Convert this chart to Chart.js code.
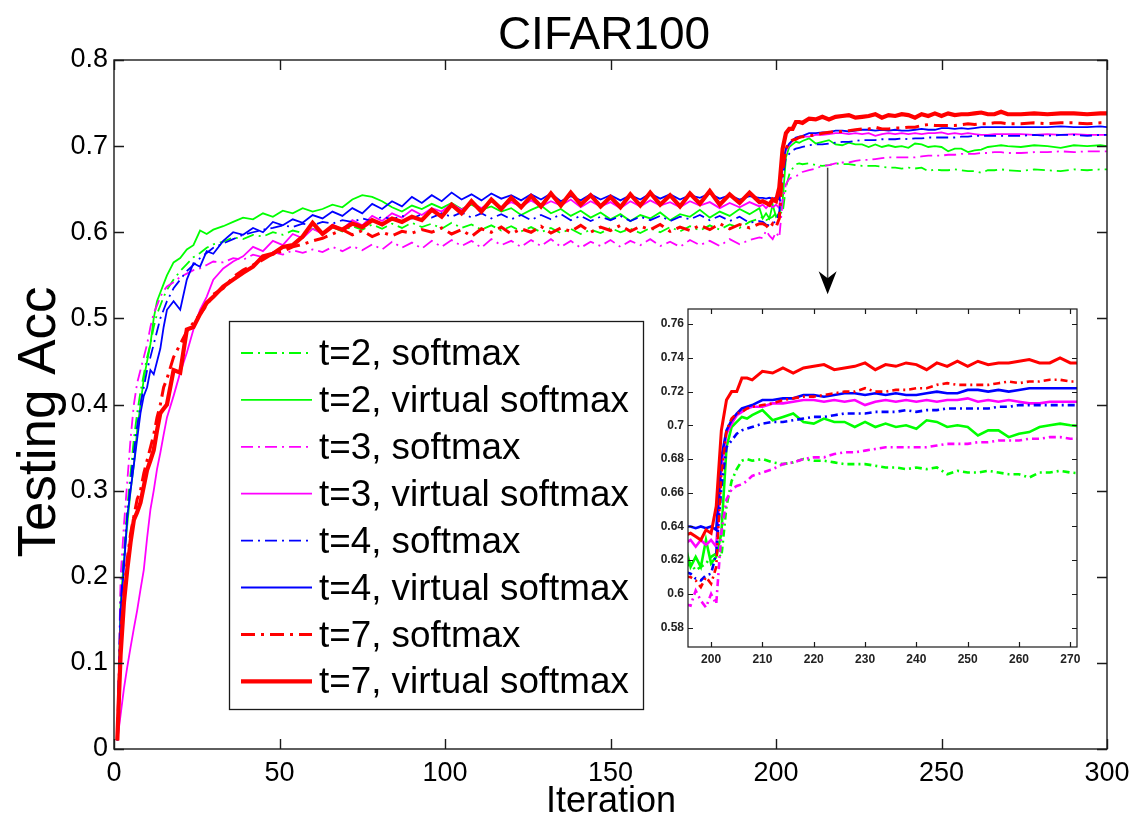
<!DOCTYPE html>
<html>
<head>
<meta charset="utf-8">
<script src="https://cdn.jsdelivr.net/npm/chart.js@4.4.1/dist/chart.umd.min.js"></script>
<style>
  html, body { margin: 0; padding: 0; background: #fff; }
  #wrap { position: relative; width: 1135px; height: 815px; }
  #main { position: absolute; left: 0; top: 0; }
  #zoom { position: absolute; left: 640px; top: 295px; }
</style>
</head>
<body>
<div id="wrap">
  <canvas id="main" width="1135" height="815"></canvas>
  <canvas id="zoom" width="460" height="385"></canvas>
</div>
<script>
const FONT = '"Liberation Sans", Arial, Helvetica, sans-serif';

// iterations sampled for the three stretches of each curve
const xHead = [1, 2, 3, 4, 5, 6, 7, 8, 9, 10, 11, 12, 13, 14, 15, 16,
  18, 20, 22, 24, 26, 28, 30,
  33, 36, 39, 42, 45, 48, 51, 54, 57, 60,
  63, 66, 69, 72, 75, 78, 81, 84, 87, 90,
  93, 96, 99, 102, 105, 108, 111, 114, 117, 120,
  123, 126, 129, 132, 135, 138, 141, 144, 147, 150,
  153, 156, 159, 162, 165, 168, 171, 174, 177, 180,
  183, 186, 189, 192, 195];
const xZoom = [196, 197, 198, 199, 200, 201, 202, 203, 204, 205, 206, 207, 208,
  210, 212, 214, 216, 218, 220, 222, 224, 226, 228,
  230, 232, 234, 236, 238, 240, 242, 244, 246, 248,
  250, 252, 254, 256, 258, 260, 262, 264, 266, 268, 270];
const xTail = [274, 278, 282, 286, 290, 294, 298, 300];

const seriesNames = [
  "t=2, softmax", "t=2, virtual softmax",
  "t=3, softmax", "t=3, virtual softmax",
  "t=4, softmax", "t=4, virtual softmax",
  "t=7, softmax", "t=7, virtual softmax"
];

// t=2 softmax
const headT2Soft = [0.01, 0.18, 0.23, 0.28, 0.32, 0.36, 0.39, 0.415, 0.435, 0.455, 0.47, 0.49, 0.505, 0.515, 0.525, 0.533,
  0.545, 0.555, 0.563, 0.571, 0.576, 0.582, 0.586,
  0.589, 0.594, 0.592, 0.597, 0.595, 0.6, 0.597, 0.602, 0.599, 0.604,
  0.6, 0.606, 0.601, 0.607, 0.603, 0.609, 0.604, 0.61, 0.605, 0.611,
  0.606, 0.61, 0.604, 0.611, 0.605, 0.609, 0.603, 0.608, 0.602, 0.607,
  0.601, 0.606, 0.6, 0.605, 0.599, 0.604, 0.598, 0.603, 0.599, 0.605,
  0.6, 0.604, 0.599, 0.605, 0.6, 0.606, 0.601, 0.607, 0.602, 0.608,
  0.603, 0.609, 0.605, 0.612, 0.616];
const zoomT2Soft = [0.618, 0.614, 0.616, 0.618, 0.622, 0.624, 0.622, 0.652, 0.667, 0.674, 0.679, 0.68, 0.679,
  0.68, 0.678, 0.677, 0.678, 0.68, 0.679, 0.679, 0.678, 0.677, 0.677,
  0.677, 0.676, 0.675, 0.675, 0.674, 0.675, 0.674, 0.675, 0.671, 0.673,
  0.672, 0.672, 0.673, 0.672, 0.671, 0.671, 0.669, 0.672, 0.672, 0.673, 0.672];
const tailT2Soft = [0.671, 0.673, 0.672, 0.671, 0.673, 0.672, 0.673, 0.673];

// t=2 virtual softmax
const headT2Virt = [0.01, 0.17, 0.22, 0.26, 0.3, 0.33, 0.37, 0.4, 0.43, 0.45, 0.47, 0.5, 0.52, 0.53, 0.54, 0.55,
  0.565, 0.57, 0.58, 0.585, 0.602, 0.598, 0.603,
  0.607, 0.612, 0.617, 0.615, 0.622, 0.618, 0.625, 0.622, 0.628, 0.624,
  0.627, 0.632, 0.629, 0.638, 0.643, 0.641, 0.636, 0.629, 0.624, 0.631,
  0.627, 0.633, 0.628, 0.634, 0.627, 0.632, 0.626, 0.63, 0.624, 0.628,
  0.62, 0.626, 0.631, 0.622, 0.627, 0.619, 0.625, 0.617, 0.623, 0.615,
  0.621, 0.613, 0.62, 0.616, 0.623, 0.614, 0.621, 0.618, 0.626, 0.617,
  0.624, 0.619, 0.627, 0.621, 0.628];
const zoomT2Virt = [0.616, 0.622, 0.616, 0.632, 0.618, 0.622, 0.636, 0.687, 0.699, 0.702, 0.705, 0.704, 0.706,
  0.709, 0.703, 0.705, 0.707, 0.702, 0.701, 0.704, 0.702, 0.702, 0.699,
  0.702, 0.699, 0.701, 0.699, 0.7, 0.698, 0.703, 0.702, 0.699, 0.7,
  0.699, 0.694, 0.697, 0.697, 0.693, 0.695, 0.696, 0.699, 0.7, 0.701, 0.7];
const tailT2Virt = [0.699, 0.701, 0.7, 0.698, 0.701, 0.7, 0.701, 0.7];

// t=3 softmax
const headT3Soft = [0.01, 0.2, 0.26, 0.31, 0.36, 0.4, 0.425, 0.44, 0.455, 0.47, 0.49, 0.506, 0.515, 0.525, 0.532, 0.537,
  0.542, 0.548, 0.552, 0.556, 0.558, 0.562, 0.566,
  0.565, 0.57, 0.568, 0.574, 0.571, 0.577, 0.574, 0.579, 0.576, 0.58,
  0.577, 0.583, 0.578, 0.584, 0.579, 0.586, 0.58, 0.589, 0.582, 0.588,
  0.581, 0.59, 0.583, 0.591, 0.584, 0.59, 0.582, 0.592, 0.585, 0.59,
  0.583, 0.591, 0.584, 0.592, 0.583, 0.59, 0.582, 0.589, 0.584, 0.591,
  0.583, 0.59, 0.585, 0.592, 0.584, 0.589, 0.583, 0.591, 0.585, 0.59,
  0.584, 0.592, 0.586, 0.591, 0.594];
const zoomT3Soft = [0.593, 0.602, 0.596, 0.592, 0.6, 0.594, 0.636, 0.656, 0.662, 0.664, 0.665, 0.667, 0.67,
  0.672, 0.674, 0.677, 0.678, 0.68, 0.681, 0.681, 0.683, 0.684, 0.684,
  0.685, 0.686, 0.687, 0.687, 0.687, 0.687, 0.687, 0.688, 0.689, 0.689,
  0.689, 0.69, 0.69, 0.691, 0.691, 0.691, 0.692, 0.692, 0.693, 0.693, 0.692];
const tailT3Soft = [0.692, 0.693, 0.693, 0.694, 0.693, 0.694, 0.694, 0.694];

// t=3 virtual softmax
const headT3Virt = [0.01, 0.04, 0.07, 0.095, 0.118, 0.14, 0.161, 0.185, 0.208, 0.245, 0.278, 0.3, 0.325, 0.344, 0.365, 0.385,
  0.41, 0.437, 0.46, 0.487, 0.51, 0.525, 0.545,
  0.558, 0.566, 0.572, 0.583, 0.578, 0.59, 0.585, 0.598, 0.593, 0.604,
  0.598, 0.609, 0.603, 0.614, 0.608, 0.619, 0.613, 0.622, 0.617, 0.626,
  0.62, 0.628, 0.624, 0.633, 0.626, 0.634, 0.628, 0.636, 0.629, 0.635,
  0.63, 0.637, 0.63, 0.636, 0.631, 0.638, 0.629, 0.636, 0.63, 0.635,
  0.628, 0.636, 0.63, 0.637, 0.631, 0.635, 0.629, 0.636, 0.631, 0.635,
  0.628, 0.634, 0.629, 0.635, 0.63];
const zoomT3Virt = [0.632, 0.628, 0.632, 0.629, 0.632, 0.628, 0.675, 0.695, 0.701, 0.706, 0.708, 0.71, 0.711,
  0.711, 0.713, 0.713, 0.714, 0.715, 0.715, 0.714, 0.715, 0.714, 0.715,
  0.712, 0.714, 0.715, 0.714, 0.715, 0.714, 0.715, 0.714, 0.715, 0.715,
  0.716, 0.714, 0.715, 0.714, 0.715, 0.714, 0.713, 0.713, 0.714, 0.714, 0.714];
const tailT3Virt = [0.714, 0.713, 0.714, 0.713, 0.714, 0.713, 0.713, 0.713];

// t=4 softmax
const headT4Soft = [0.01, 0.17, 0.22, 0.27, 0.31, 0.345, 0.375, 0.4, 0.42, 0.44, 0.455, 0.47, 0.485, 0.5, 0.51, 0.52,
  0.535, 0.545, 0.555, 0.562, 0.57, 0.576, 0.582,
  0.587, 0.592, 0.597, 0.6, 0.603, 0.605, 0.608, 0.606, 0.61, 0.608,
  0.612, 0.61, 0.614, 0.612, 0.616, 0.613, 0.618, 0.615, 0.619, 0.616,
  0.621, 0.617, 0.622, 0.618, 0.623, 0.617, 0.622, 0.616, 0.621, 0.615,
  0.62, 0.614, 0.62, 0.615, 0.621, 0.614, 0.619, 0.613, 0.618, 0.614,
  0.619, 0.613, 0.618, 0.614, 0.619, 0.613, 0.618, 0.615, 0.62, 0.614,
  0.619, 0.613, 0.618, 0.611, 0.613];
const zoomT4Soft = [0.612, 0.609, 0.608, 0.611, 0.612, 0.624, 0.663, 0.687, 0.691, 0.695, 0.697, 0.698, 0.699,
  0.701, 0.702, 0.702, 0.703, 0.704, 0.705, 0.705, 0.706, 0.707, 0.707,
  0.707, 0.708, 0.708, 0.708, 0.709, 0.708, 0.709, 0.709, 0.71, 0.71,
  0.71, 0.71, 0.71, 0.711, 0.711, 0.712, 0.712, 0.712, 0.712, 0.712, 0.712];
const tailT4Soft = [0.712, 0.713, 0.712, 0.713, 0.713, 0.712, 0.713, 0.713];

// t=4 virtual softmax
const headT4Virt = [0.01, 0.16, 0.21, 0.27, 0.3, 0.33, 0.36, 0.39, 0.41, 0.42, 0.44, 0.435, 0.45, 0.465, 0.49, 0.51,
  0.52, 0.51, 0.545, 0.564, 0.56, 0.578, 0.575,
  0.59, 0.6, 0.597, 0.605, 0.6, 0.612, 0.608, 0.615, 0.611, 0.62,
  0.616, 0.624, 0.619, 0.628, 0.622, 0.633, 0.627, 0.636, 0.63, 0.641,
  0.634, 0.643, 0.636, 0.646, 0.638, 0.644, 0.637, 0.645, 0.639, 0.643,
  0.637, 0.644, 0.638, 0.645, 0.636, 0.642, 0.637, 0.644, 0.638, 0.643,
  0.637, 0.643, 0.638, 0.645, 0.639, 0.644, 0.638, 0.643, 0.64, 0.645,
  0.639, 0.643, 0.638, 0.642, 0.64];
const zoomT4Virt = [0.64, 0.639, 0.64, 0.639, 0.64, 0.638, 0.681, 0.697, 0.703, 0.707, 0.71, 0.711, 0.712,
  0.715, 0.715, 0.716, 0.716, 0.718, 0.718, 0.717, 0.718, 0.719, 0.719,
  0.718, 0.719, 0.718, 0.719, 0.718, 0.718, 0.719, 0.72, 0.719, 0.719,
  0.721, 0.721, 0.72, 0.721, 0.72, 0.721, 0.722, 0.722, 0.722, 0.722, 0.722];
const tailT4Virt = [0.722, 0.722, 0.722, 0.723, 0.722, 0.722, 0.723, 0.722];

// t=7 softmax
const headT7Soft = [0.01, 0.13, 0.18, 0.22, 0.25, 0.27, 0.29, 0.3, 0.32, 0.335, 0.35, 0.365, 0.385, 0.4, 0.42, 0.43,
  0.455, 0.47, 0.485, 0.495, 0.505, 0.515, 0.528,
  0.535, 0.548, 0.556, 0.562, 0.568, 0.575, 0.578, 0.583, 0.586, 0.59,
  0.593, 0.598, 0.603, 0.597, 0.602, 0.595, 0.6, 0.596, 0.601, 0.599,
  0.603, 0.6, 0.605, 0.598, 0.603, 0.595, 0.604, 0.6, 0.606, 0.598,
  0.604, 0.6, 0.607, 0.599, 0.605, 0.601, 0.608, 0.6, 0.606, 0.602,
  0.608, 0.601, 0.607, 0.603, 0.609, 0.601, 0.606, 0.602, 0.608, 0.603,
  0.61, 0.604, 0.609, 0.605, 0.61];
const zoomT7Soft = [0.61, 0.608, 0.604, 0.61, 0.606, 0.616, 0.671, 0.697, 0.704, 0.707, 0.708, 0.71, 0.711,
  0.712, 0.713, 0.715, 0.716, 0.717, 0.717, 0.718, 0.719, 0.72, 0.72,
  0.722, 0.72, 0.72, 0.721, 0.721, 0.722, 0.722, 0.724, 0.725, 0.724,
  0.724, 0.724, 0.724, 0.725, 0.726, 0.725, 0.726, 0.726, 0.727, 0.727, 0.726];
const tailT7Soft = [0.726, 0.727, 0.726, 0.727, 0.727, 0.726, 0.727, 0.727];

// t=7 virtual softmax
const headT7Virt = [0.01, 0.11, 0.17, 0.208, 0.24, 0.266, 0.275, 0.286, 0.305, 0.324, 0.335, 0.347, 0.37, 0.39, 0.395, 0.4,
  0.44, 0.437, 0.487, 0.49, 0.505, 0.518, 0.525,
  0.537, 0.545, 0.553, 0.56, 0.572, 0.575, 0.583, 0.585, 0.595, 0.611,
  0.598, 0.607, 0.603, 0.61, 0.606, 0.614, 0.609, 0.616, 0.612, 0.618,
  0.614, 0.626, 0.618, 0.632, 0.622, 0.636, 0.624, 0.638, 0.627, 0.64,
  0.629, 0.642, 0.63, 0.645, 0.631, 0.646, 0.632, 0.643, 0.63, 0.641,
  0.629, 0.644, 0.631, 0.646, 0.632, 0.643, 0.63, 0.645, 0.633, 0.648,
  0.632, 0.644, 0.634, 0.646, 0.635];
const zoomT7Virt = [0.636, 0.634, 0.632, 0.638, 0.636, 0.652, 0.697, 0.715, 0.72, 0.72, 0.728, 0.728, 0.727,
  0.732, 0.731, 0.734, 0.731, 0.734, 0.735, 0.736, 0.733, 0.734, 0.735,
  0.737, 0.733, 0.736, 0.735, 0.737, 0.736, 0.733, 0.737, 0.735, 0.738,
  0.735, 0.738, 0.736, 0.737, 0.737, 0.738, 0.739, 0.737, 0.737, 0.74, 0.737];
const tailT7Virt = [0.737, 0.738, 0.737, 0.738, 0.738, 0.737, 0.738, 0.738];

const yTicksMain = [0, 0.1, 0.2, 0.3, 0.4, 0.5, 0.6, 0.7, 0.8];

const GREEN = "#00ff00", MAGENTA = "#ff00ff", BLUE = "#0000ff", RED = "#ff0000";

const seriesList = [
  { color: GREEN, dash: true, w: 1.8, head: headT2Soft, zoom: zoomT2Soft, tail: tailT2Soft },
  { color: GREEN, dash: false, w: 1.8, head: headT2Virt, zoom: zoomT2Virt, tail: tailT2Virt },
  { color: MAGENTA, dash: true, w: 1.8, head: headT3Soft, zoom: zoomT3Soft, tail: tailT3Soft },
  { color: MAGENTA, dash: false, w: 1.8, head: headT3Virt, zoom: zoomT3Virt, tail: tailT3Virt },
  { color: BLUE, dash: true, w: 1.8, head: headT4Soft, zoom: zoomT4Soft, tail: tailT4Soft },
  { color: BLUE, dash: false, w: 1.8, head: headT4Virt, zoom: zoomT4Virt, tail: tailT4Virt },
  { color: RED, dash: true, w: 3, head: headT7Soft, zoom: zoomT7Soft, tail: tailT7Soft },
  { color: RED, dash: false, w: 4.2, head: headT7Virt, zoom: zoomT7Virt, tail: tailT7Virt }
];

function points(xs, ys) {
  return xs.map((x, i) => ({ x: x, y: ys[i] }));
}

function tickText(v) {
  return String(+(+v).toFixed(2));
}

// MATLAB style box with ticks pointing inwards on all four sides
const boxTicks = {
  id: "boxTicks",
  afterDraw(chart, args, opts) {
    const { ctx, chartArea: a, scales } = chart;
    const len = opts.len || 10;
    ctx.save();
    ctx.strokeStyle = "#1a1a1a";
    ctx.lineWidth = opts.lw || 1.3;
    ctx.strokeRect(a.left, a.top, a.right - a.left, a.bottom - a.top);
    ctx.beginPath();
    scales.x.ticks.forEach((t) => {
      const px = Math.round(scales.x.getPixelForValue(t.value)) + 0.5;
      ctx.moveTo(px, a.bottom); ctx.lineTo(px, a.bottom - len);
      ctx.moveTo(px, a.top); ctx.lineTo(px, a.top + len);
    });
    scales.y.ticks.forEach((t) => {
      const py = Math.round(scales.y.getPixelForValue(t.value)) + 0.5;
      ctx.moveTo(a.left, py); ctx.lineTo(a.left + len, py);
      ctx.moveTo(a.right, py); ctx.lineTo(a.right - len, py);
    });
    ctx.stroke();
    ctx.restore();
  }
};

const mainDecor = {
  id: "mainDecor",
  afterDraw(chart) {
    const { ctx, scales } = chart;
    ctx.save();
    ctx.fillStyle = "#000";
    ctx.textAlign = "center";
    ctx.textBaseline = "alphabetic";
    ctx.font = `46px ${FONT}`;
    ctx.fillText("CIFAR100", 604, 49);
    ctx.font = `36px ${FONT}`;
    ctx.fillText("Iteration", 611, 812);
    ctx.translate(55, 422);
    ctx.rotate(-Math.PI / 2);
    ctx.font = `53px ${FONT}`;
    ctx.fillText("Testing Acc", 0, 0);
    ctx.restore();

    // arrow pointing to the inset
    const ax = scales.x.getPixelForValue(215.6);
    const y0 = scales.y.getPixelForValue(0.675);
    const y1 = scales.y.getPixelForValue(0.528);
    ctx.save();
    ctx.strokeStyle = "#444";
    ctx.lineWidth = 1.5;
    ctx.beginPath();
    ctx.moveTo(ax, y0);
    ctx.lineTo(ax, y1 - 14);
    ctx.stroke();
    ctx.fillStyle = "#000";
    ctx.beginPath();
    ctx.moveTo(ax, y1);
    ctx.lineTo(ax - 9, y1 - 23);
    ctx.lineTo(ax, y1 - 16);
    ctx.lineTo(ax + 9, y1 - 23);
    ctx.closePath();
    ctx.fill();
    ctx.restore();

    // legend box
    const bx = 229, by = 321, bw = 414, bh = 388;
    ctx.save();
    ctx.fillStyle = "#fff";
    ctx.fillRect(bx, by, bw, bh);
    ctx.strokeStyle = "#1a1a1a";
    ctx.lineWidth = 1.3;
    ctx.strokeRect(bx + 0.5, by + 0.5, bw, bh);
    ctx.font = `36.8px ${FONT}`;
    ctx.textAlign = "left";
    ctx.textBaseline = "middle";
    chart.data.datasets.forEach((ds, i) => {
      const ry = 353 + 46.9 * i;
      ctx.strokeStyle = ds.borderColor;
      ctx.lineWidth = ds.borderWidth;
      ctx.setLineDash(ds.borderDash || []);
      ctx.beginPath();
      ctx.moveTo(241, ry);
      ctx.lineTo(312, ry);
      ctx.stroke();
      ctx.setLineDash([]);
      ctx.fillStyle = "#000";
      ctx.fillText(ds.label, 319, ry + 2);
    });
    ctx.restore();
  }
};

const mainDatasets = seriesList.map((s, i) => ({
  label: seriesNames[i],
  data: points(xHead, s.head).concat(points(xZoom, s.zoom), points(xTail, s.tail)),
  borderColor: s.color,
  borderWidth: s.w,
  borderDash: s.dash ? (s.w > 2 ? [14, 6, 3, 6] : [12, 5, 2, 5]) : [],
  pointRadius: 0,
  tension: 0,
  fill: false,
  order: 7 - i
}));

new Chart(document.getElementById("main").getContext("2d"), {
  type: "line",
  data: { datasets: mainDatasets },
  options: {
    responsive: false,
    animation: false,
    events: [],
    layout: { padding: { top: 60, right: 28, left: 0, bottom: 0 } },
    plugins: { legend: { display: false }, tooltip: { enabled: false }, boxTicks: { len: 10, lw: 1.4 } },
    scales: {
      x: {
        type: "linear", min: 0, max: 300,
        grid: { display: false, drawTicks: false },
        border: { display: false },
        ticks: { stepSize: 50, padding: 8, color: "#000", maxRotation: 0, font: { family: FONT, size: 27 } },
        afterFit(s) { s.height = 66; s.paddingLeft = 0; s.paddingRight = 0; }
      },
      y: {
        type: "linear", min: yTicksMain[0], max: yTicksMain[yTicksMain.length - 1],
        grid: { display: false, drawTicks: false },
        border: { display: false },
        ticks: { stepSize: 0.1, padding: 6, color: "#000", callback: tickText, font: { family: FONT, size: 27 } },
        afterFit(s) { s.width = 114; s.paddingTop = 0; s.paddingBottom = 0; }
      }
    }
  },
  plugins: [boxTicks, mainDecor]
});

// inset: zoom on iterations 195-271
const zoomDatasets = seriesList.map((s, i) => ({
  label: seriesNames[i],
  data: points(xHead.slice(-1), s.head.slice(-1)).concat(points(xZoom, s.zoom), points(xTail.slice(0, 1), s.tail.slice(0, 1))),
  borderColor: s.color,
  borderWidth: i === 7 ? 3 : 2.6,
  borderDash: s.dash ? [7, 4, 2, 4] : [],
  pointRadius: 0,
  tension: 0,
  fill: false,
  order: 7 - i
}));

new Chart(document.getElementById("zoom").getContext("2d"), {
  type: "line",
  data: { datasets: zoomDatasets },
  options: {
    responsive: false,
    animation: false,
    events: [],
    layout: { padding: { top: 14, right: 23, left: 0, bottom: 0 } },
    plugins: { legend: { display: false }, tooltip: { enabled: false }, boxTicks: { len: 5, lw: 1.2 } },
    scales: {
      x: {
        type: "linear", min: 195.5, max: 271.3,
        grid: { display: false, drawTicks: false },
        border: { display: false },
        ticks: { stepSize: 10, includeBounds: false, padding: 5, color: "#222", maxRotation: 0, font: { family: FONT, size: 12, weight: "bold" } },
        afterFit(s) { s.height = 33; s.paddingLeft = 0; s.paddingRight = 0; }
      },
      y: {
        type: "linear", min: 0.5685, max: 0.769,
        grid: { display: false, drawTicks: false },
        border: { display: false },
        ticks: { stepSize: 0.02, includeBounds: false, padding: 4, color: "#222", callback: tickText, font: { family: FONT, size: 12, weight: "bold" } },
        afterFit(s) { s.width = 48; s.paddingTop = 0; s.paddingBottom = 0; }
      }
    }
  },
  plugins: [boxTicks]
});
</script>
</body>
</html>
